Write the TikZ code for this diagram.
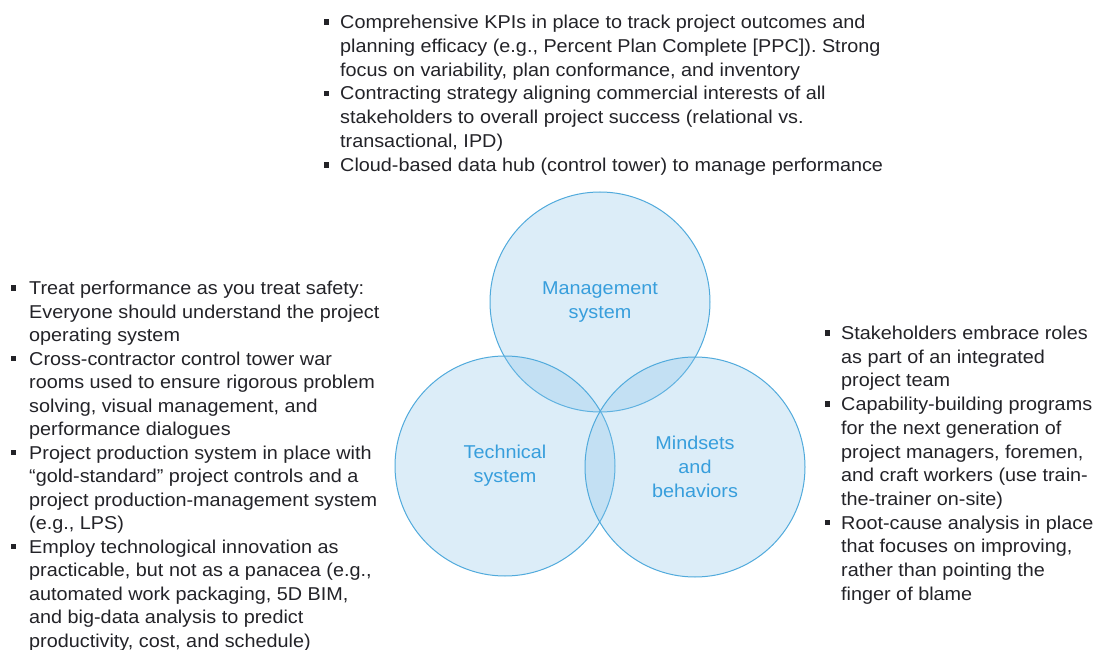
\documentclass[tikz,border=0pt]{standalone}
\usepackage{fontspec}
\setmainfont{Liberation Sans}[FakeStretch=1.065]
\definecolor{txtc}{RGB}{35,35,40}
\definecolor{vfill}{RGB}{133,195,234}
\definecolor{vline}{RGB}{80,170,220}
\definecolor{vtext}{RGB}{55,158,220}
\begin{document}
\begin{tikzpicture}[x=1pt,y=-1pt,
  txt/.style={anchor=base west, inner sep=0pt, text=txtc, font=\fontsize{18.6}{23.7}\selectfont},
  bul/.style={rectangle, fill=txtc, inner sep=0pt, minimum width=5pt, minimum height=5.5pt},
  venn/.style={circle, minimum size=220pt, inner sep=0pt, draw=vline, line width=1pt,
    fill=vfill, fill opacity=0.286, text opacity=1, text=vtext, align=center,
    font=\fontsize{18.6}{24}\selectfont}]
\useasboundingbox (0,0) rectangle (1096,650);
\fill[white] (0,0) rectangle (1096,650);
% Venn circles
\node[venn] (mgmt) at (600,302) {\fontsize{18.6}{25}\selectfont Management\\system};
\node[venn] (tech) at (505,466) {Technical\\system};
\node[venn] (mind) at (695,467) {\fontsize{18.6}{23}\selectfont Mindsets\\and\\behaviors};
% Top block
\foreach \t [count=\i] in {
  {Comprehensive KPIs in place to track project outcomes and},
  {planning efficacy (e.g., Percent Plan Complete [PPC]). Strong},
  {focus on variability, plan conformance, and inventory},
  {Contracting strategy aligning commercial interests of all},
  {stakeholders to overall project success (relational vs.},
  {transactional, IPD)},
  {Cloud-based data hub (control tower) to manage performance}}
  {\node[txt] (top\i) at (340,{28.5+23.8*(\i-1)}) {\t};}
\foreach \k in {1,4,7}
  {\node[bul] (topb\k) at (326.5,{28.5+23.8*(\k-1)-6.5}) {};}
% Left block
\foreach \t [count=\i] in {
  {Treat performance as you treat safety:},
  {Everyone should understand the project},
  {operating system},
  {Cross-contractor control tower war},
  {rooms used to ensure rigorous problem},
  {solving, visual management, and},
  {performance dialogues},
  {Project production system in place with},
  {“gold-standard” project controls and a},
  {project production-management system},
  {(e.g., LPS)},
  {Employ technological innovation as},
  {practicable, but not as a panacea (e.g.,},
  {automated work packaging, 5D BIM,},
  {and big-data analysis to predict},
  {productivity, cost, and schedule)}}
  {\node[txt] (left\i) at (29,{294.5+23.5*(\i-1)}) {\t};}
\foreach \k in {1,4,8,12}
  {\node[bul] (leftb\k) at (13,{294.5+23.5*(\k-1)-6.5}) {};}
% Right block
\foreach \t [count=\i] in {
  {Stakeholders embrace roles},
  {as part of an integrated},
  {project team},
  {Capability-building programs},
  {for the next generation of},
  {project managers, foremen,},
  {and craft workers (use train-},
  {the-trainer on-site)},
  {Root-cause analysis in place},
  {that focuses on improving,},
  {rather than pointing the},
  {finger of blame}}
  {\node[txt] (right\i) at (841,{339.5+23.7*(\i-1)}) {\t};}
\foreach \k in {1,4,9}
  {\node[bul] (rightb\k) at (827,{339.5+23.7*(\k-1)-6.5}) {};}
\end{tikzpicture}
\end{document}
